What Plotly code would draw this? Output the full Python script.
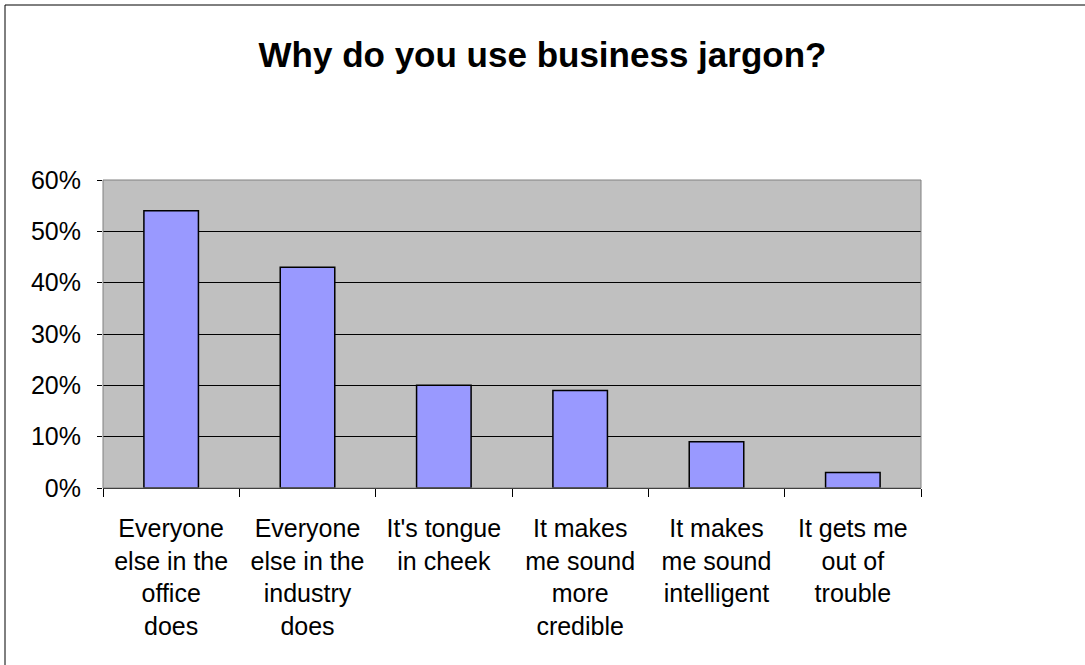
import plotly.graph_objects as go

categories = [
    "Everyone<br>else in the<br>office<br>does",
    "Everyone<br>else in the<br>industry<br>does",
    "It's tongue<br>in cheek",
    "It makes<br>me sound<br>more<br>credible",
    "It makes<br>me sound<br>intelligent",
    "It gets me<br>out of<br>trouble",
]
values = [0.54, 0.43, 0.20, 0.19, 0.09, 0.03]
title = "Why do you use business jargon?"

W, H = 1085, 665
L, R, T, B = 103, 921, 180, 488
pw, ph = R - L, B - T

fig = go.Figure(go.Bar(
    x=categories, y=values,
    marker=dict(color="#9999FF", line=dict(color="black", width=1.5)),
    width=0.4,
))

font = "Liberation Sans, Arial, sans-serif"
fig.update_layout(
    width=W, height=H,
    margin=dict(l=L, r=W - R, t=T, b=H - B, pad=0),
    paper_bgcolor="white",
    plot_bgcolor="#C0C0C0",
    showlegend=False,
    font=dict(family=font, size=25, color="black"),
    title=dict(text="<b>" + title + "</b>", x=0.5, xanchor="center",
               xref="container", y=1 - 55 / H, yanchor="middle",
               font=dict(size=35, family=font, color="black")),
    bargap=0.6,
)
fig.update_xaxes(
    showgrid=False, tickson="boundaries", ticks="outside", ticklen=8,
    tickcolor="black", tickwidth=1, showline=True, linecolor="black",
    linewidth=1, tickfont=dict(size=25), tickangle=0, ticklabelstandoff=18,
)
fig.update_yaxes(
    range=[0, 0.6], dtick=0.1, tickformat=".0%", showgrid=True,
    gridcolor="black", gridwidth=1, ticks="outside", ticklen=5,
    tickcolor="black", showline=False, zeroline=False,
    tickfont=dict(size=25), ticklabelstandoff=11,
)
# plot area border (gray)
fig.add_shape(type="rect", xref="paper", yref="paper", x0=0, x1=1, y0=0, y1=1,
              line=dict(color="#808080", width=1), layer="above")
# outer chart frame (left and top edges visible)
fx0 = (5 - L) / pw
fy1 = 1 + (T - 5) / ph
fig.add_shape(type="rect", xref="paper", yref="paper", x0=fx0, x1=1 + (W + 10 - R) / pw,
              y0=-(H + 10 - B) / ph, y1=fy1, line=dict(color="black", width=1))
fig.write_html("out.html")
